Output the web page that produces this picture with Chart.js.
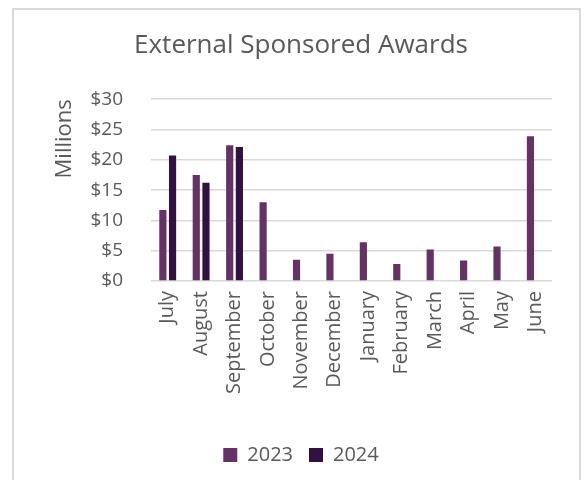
<!DOCTYPE html>
<html>
<head>
<meta charset="utf-8">
<script src="https://cdn.jsdelivr.net/npm/chart.js@4/dist/chart.umd.min.js"></script>
<style>
  html, body { margin: 0; padding: 0; background: #ffffff; }
  #wrap { position: relative; width: 585px; height: 480px; overflow: hidden; }
  #frame { position: absolute; left: 12px; top: 8px; width: 569px; height: 500px; border: 2px solid #d9d9d9; box-sizing: border-box; }
  #c { position: absolute; left: 0; top: 0; }
</style>
</head>
<body>
<div id="wrap">
  <div id="frame"></div>
  <canvas id="c" width="585" height="480"></canvas>
</div>
<script>
const months = ["July", "August", "September", "October", "November", "December", "January", "February", "March", "April", "May", "June"];
const awards2023 = [11.7, 17.5, 22.4, 13.0, 3.5, 4.5, 6.4, 2.8, 5.2, 3.4, 5.7, 23.9];
const awards2024 = [20.7, 16.2, 22.1, null, null, null, null, null, null, null, null, null];
const yTicks = [0, 5, 10, 15, 20, 25, 30];

const textColor = '#595959';
const family = "'Open Sans', 'DejaVu Sans', sans-serif";

new Chart(document.getElementById('c'), {
  type: 'bar',
  data: {
    labels: months,
    datasets: [
      { label: '2023', data: awards2023, backgroundColor: '#643264', borderWidth: 0, categoryPercentage: 0.58, barPercentage: 0.74 },
      { label: '2024', data: awards2024, backgroundColor: '#32103f', borderWidth: 0, categoryPercentage: 0.58, barPercentage: 0.74 }
    ]
  },
  options: {
    responsive: false,
    animation: false,
    devicePixelRatio: 1,
    layout: { padding: { left: 50, right: 33, top: 30, bottom: 5 } },
    plugins: {
      title: {
        display: true,
        text: 'External Sponsored Awards',
        color: textColor,
        font: { family: family, size: 26, weight: 'normal' },
        padding: { top: 0, bottom: 38 }
      },
      legend: {
        position: 'bottom',
        labels: {
          color: textColor,
          font: { family: family, size: 20 },
          boxWidth: 14,
          boxHeight: 14,
          padding: 16
        }
      },
      tooltip: { enabled: false }
    },
    scales: {
      x: {
        grid: { display: false, drawTicks: false },
        border: { display: false },
        ticks: {
          color: textColor,
          font: { family: family, size: 20 },
          maxRotation: 90,
          minRotation: 90,
          autoSkip: false,
          padding: 10
        },
        afterFit: (axis) => { axis.height = 148; }
      },
      y: {
        min: 0,
        max: 30,
        afterBuildTicks: (axis) => { axis.ticks = yTicks.map(v => ({ value: v })); },
        grid: { color: '#d9d9d9', lineWidth: 1.5, drawTicks: false },
        border: { display: false },
        ticks: {
          color: textColor,
          font: { family: family, size: 19 },
          padding: 28,
          callback: (v) => '$' + v
        },
        title: {
          display: true,
          text: 'Millions',
          align: 'end',
          color: textColor,
          font: { family: family, size: 22 },
          padding: { top: 2, bottom: 0 }
        },
        afterFit: (axis) => { axis.width = 101; }
      }
    }
  }
});
</script>
</body>
</html>
